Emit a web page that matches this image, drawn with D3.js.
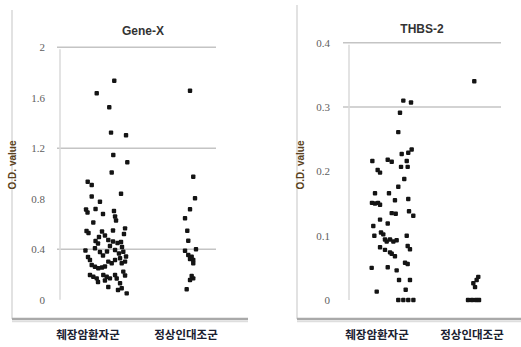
<!DOCTYPE html>
<html>
<head>
<meta charset="utf-8">
<script src="https://cdn.jsdelivr.net/npm/d3@7"></script>
<style>
  body { margin: 0; background: #fff; }
  svg { display: block; }
</style>
</head>
<body>
<div id="chart"></div>
<script>
// groups on the x axis
const categories = ["췌장암환자군", "정상인대조군"];

// y ticks and the grid lines that are visible
const geneXTicks = [0, 0.4, 0.8, 1.2, 1.6, 2];
const geneXGrid = [0.4, 1.2, 2];
const thbsTicks = [0, 0.1, 0.2, 0.3, 0.4];
const thbsGrid = [0.3, 0.4];

// [x position (1 = first group, 2 = second group, with jitter), O.D. value]
const geneXPatients = [
  [1.268, 1.735], [1.089, 1.636], [1.217, 1.525], [1.235, 1.324], [1.388, 1.303],
  [1.258, 1.147], [1.401, 1.090], [1.242, 1.008], [0.997, 0.935], [1.038, 0.909],
  [1.337, 0.840], [1.038, 0.818], [1.122, 0.777], [0.980, 0.715], [0.995, 0.691],
  [1.077, 0.719], [1.153, 0.680], [1.265, 0.703], [1.276, 0.660], [1.286, 0.628],
  [1.054, 0.612], [0.985, 0.545], [1.005, 0.529], [1.143, 0.541], [1.173, 0.509],
  [1.255, 0.549], [1.378, 0.566], [1.367, 0.521], [1.077, 0.466], [1.102, 0.446],
  [1.207, 0.474], [1.255, 0.462], [1.301, 0.450], [1.337, 0.458], [1.347, 0.418],
  [0.974, 0.390], [1.071, 0.408], [1.122, 0.379], [1.153, 0.351], [1.194, 0.383],
  [1.276, 0.394], [1.316, 0.367], [1.360, 0.381], [1.388, 0.343], [1.020, 0.315],
  [1.038, 0.276], [1.071, 0.262], [1.105, 0.250], [1.143, 0.256], [1.173, 0.264],
  [1.207, 0.302], [1.242, 0.289], [1.276, 0.315], [1.327, 0.329], [1.344, 0.289],
  [1.378, 0.302], [1.020, 0.196], [1.054, 0.183], [1.089, 0.170], [1.156, 0.196],
  [1.191, 0.183], [1.224, 0.170], [1.276, 0.196], [1.293, 0.169], [1.360, 0.223],
  [1.378, 0.192], [1.102, 0.141], [1.173, 0.153], [1.207, 0.101], [1.327, 0.131],
  [1.344, 0.091], [1.395, 0.051], [1.306, 0.078], [1.112, 0.497], [1.224, 0.426],
  [1.000, 0.339]
];
const geneXControls = [
  [2.041, 1.656], [2.074, 0.975], [2.092, 0.804], [2.041, 0.717], [1.990, 0.646],
  [2.013, 0.547], [2.023, 0.468], [1.990, 0.389], [2.102, 0.400], [2.023, 0.355],
  [2.058, 0.341], [2.074, 0.315], [2.041, 0.323], [2.074, 0.289], [2.058, 0.189],
  [2.074, 0.170], [2.041, 0.157], [2.007, 0.083]
];
const thbsPatients = [
  [1.277, 0.310], [1.358, 0.307], [1.242, 0.291], [1.224, 0.261], [1.260, 0.227],
  [1.329, 0.229], [1.365, 0.234], [0.951, 0.216], [1.113, 0.218], [1.155, 0.215],
  [1.313, 0.216], [1.253, 0.207], [1.323, 0.207], [1.007, 0.202], [1.032, 0.198],
  [1.287, 0.188], [1.224, 0.176], [0.979, 0.166], [1.126, 0.166], [1.329, 0.157],
  [0.947, 0.151], [0.979, 0.150], [1.011, 0.151], [1.032, 0.148], [1.189, 0.155],
  [1.155, 0.135], [1.197, 0.134], [1.337, 0.138], [1.382, 0.131], [1.032, 0.125],
  [1.113, 0.119], [0.961, 0.115], [0.972, 0.100], [1.042, 0.105], [1.066, 0.102],
  [1.084, 0.094], [1.102, 0.091], [1.137, 0.094], [1.172, 0.091], [1.207, 0.093],
  [1.313, 0.100], [1.323, 0.084], [1.347, 0.079], [1.032, 0.082], [1.084, 0.078],
  [1.137, 0.074], [1.155, 0.072], [1.189, 0.068], [1.295, 0.058], [1.323, 0.056],
  [0.944, 0.050], [1.113, 0.051], [1.207, 0.046], [1.232, 0.031], [1.347, 0.031],
  [0.997, 0.013], [1.302, 0.016], [1.224, 0], [1.277, 0], [1.329, 0], [1.383, 0]
];
const thbsControls = [
  [2.024, 0.340], [2.066, 0.036], [2.049, 0.031], [2.014, 0.026], [2.032, 0.020],
  [1.958, 0], [2.000, 0], [2.042, 0], [2.074, 0]
];

const W = 521, H = 347;

const svg = d3.select("#chart").append("svg")
  .attr("width", W)
  .attr("height", H);

const panels = [
  {
    title: "Gene-X", ticks: geneXTicks, grid: geneXGrid, max: 2,
    series: [geneXPatients, geneXControls],
    frameX: 12, frameTop: 10, frameRight: 248,
    c1: 88, c2: 186, gridX0: 57, gridX1: 216, axisX: 60,
    yBottom: 299.8, yTop: 47.3, labelX: 45, titleX: 143, titleY: 35, odX: 16
  },
  {
    title: "THBS-2", ticks: thbsTicks, grid: thbsGrid, max: 0.4,
    series: [thbsPatients, thbsControls],
    frameX: 297, frameTop: 5, frameRight: 521,
    c1: 377, c2: 472, gridX0: 343, gridX1: 501, axisX: 349,
    yBottom: 300, yTop: 42.7, labelX: 330, titleX: 422, titleY: 33, odX: 304
  }
];

panels.forEach(drawPanel);

function drawPanel(p) {
  const g = svg.append("g");

  const x = d3.scaleLinear().domain([1, 2]).range([p.c1, p.c2]);
  const y = d3.scaleLinear().domain([0, p.max]).range([p.yBottom, p.yTop]);

  // chart area frame (left edge + bottom shadow)
  g.append("line")
    .attr("x1", p.frameX).attr("x2", p.frameX)
    .attr("y1", p.frameTop).attr("y2", 319)
    .attr("stroke", "#e2e2e2").attr("stroke-width", 2);
  g.append("line")
    .attr("x1", p.frameX).attr("x2", p.frameRight)
    .attr("y1", 319).attr("y2", 319)
    .attr("stroke", "#a9a9a9").attr("stroke-width", 2.5);
  g.append("line")
    .attr("x1", p.frameX).attr("x2", p.frameRight)
    .attr("y1", 321.5).attr("y2", 321.5)
    .attr("stroke", "#dedede").attr("stroke-width", 1.5);

  // grid lines
  g.selectAll(".grid")
    .data(p.grid)
    .enter()
    .append("line")
    .attr("class", "grid")
    .attr("x1", p.gridX0).attr("x2", p.gridX1)
    .attr("y1", d => y(d)).attr("y2", d => y(d))
    .attr("stroke", "#c4c4c4").attr("stroke-width", 1.5);

  // vertical axis line
  g.append("line")
    .attr("x1", p.axisX).attr("x2", p.axisX)
    .attr("y1", y(p.max) + 2).attr("y2", y(0))
    .attr("stroke", "#dadada").attr("stroke-width", 1.5);

  // tick labels
  const axis = g.append("g")
    .attr("transform", `translate(${p.labelX},0)`)
    .call(d3.axisLeft(y).tickValues(p.ticks).tickSize(0).tickPadding(0)
      .tickFormat(d3.format("~g")));
  axis.select(".domain").remove();
  axis.selectAll("text")
    .attr("fill", "#5e5e5e")
    .style("font-family", "'Liberation Serif', 'DejaVu Serif', serif")
    .style("font-size", "11px");

  // title
  g.append("text")
    .attr("x", p.titleX).attr("y", p.titleY)
    .attr("text-anchor", "middle")
    .style("font-family", "'Liberation Sans', Arial, sans-serif")
    .style("font-size", "12px")
    .style("font-weight", "600")
    .attr("fill", "#333")
    .text(p.title);

  // y axis title
  g.append("text")
    .attr("transform", `translate(${p.odX},165) rotate(-90)`)
    .attr("text-anchor", "middle")
    .style("font-family", "'Liberation Sans', Arial, sans-serif")
    .style("font-size", "10px")
    .style("font-weight", "bold")
    .attr("fill", "#5a4220")
    .text("O.D. value");

  // category labels
  g.selectAll(".cat")
    .data(categories)
    .enter()
    .append("text")
    .attr("class", "cat")
    .attr("x", (d, i) => x(i + 1))
    .attr("y", 339)
    .attr("text-anchor", "middle")
    .style("font-family", "'Noto Sans CJK KR', sans-serif")
    .style("font-size", "11.5px")
    .style("font-weight", "bold")
    .attr("fill", "#1a2030")
    .text(d => d);

  // points
  p.series.forEach(s => {
    g.append("g")
      .selectAll("rect")
      .data(s)
      .enter()
      .append("rect")
      .attr("x", d => x(d[0]) - 2.2)
      .attr("y", d => y(d[1]) - 2.2)
      .attr("width", 4.4)
      .attr("height", 4.4)
      .attr("rx", 1)
      .attr("fill", "#141414");
  });
}
</script>
</body>
</html>
